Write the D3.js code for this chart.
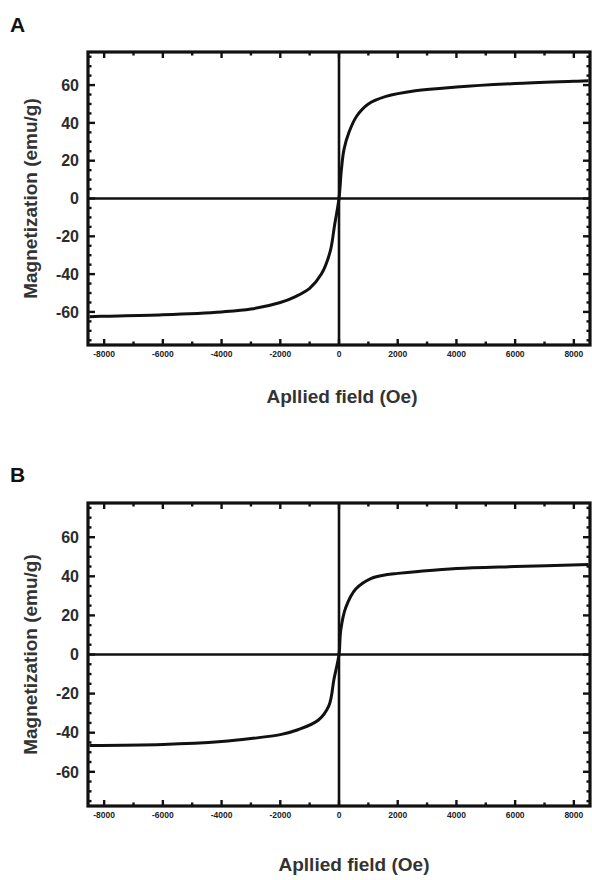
<!DOCTYPE html>
<html>
<head>
<meta charset="utf-8">
<script src="https://cdn.jsdelivr.net/npm/d3@7"></script>
<style>
  body { margin: 0; background: #fff; }
  svg text { font-family: "Liberation Sans", Arial, sans-serif; }
</style>
</head>
<body>
<div id="chart"></div>
<script>
// Panel A: field (Oe) vs magnetization (emu/g)
const fieldA = [-8500, -8000, -6000, -4000, -3000, -2000, -1500, -1000, -600, -300, -150, 0, 80, 170, 340, 600, 1000, 1600, 2600, 4000, 6000, 8000, 8500];
const magA   = [-62.5, -62.3, -61.5, -60, -58.5, -55, -52, -47.5, -40, -28, -14, 0, 15, 26, 35, 43.5, 50, 54, 57, 59, 60.8, 62, 62.3];

// Panel B
const fieldB = [-8500, -6000, -4000, -3000, -2000, -1400, -700, -340, -170, 0, 60, 230, 570, 1100, 1600, 2000, 2700, 4000, 6000, 8500];
const magB   = [-46.5, -46, -44.5, -43, -41, -38.5, -33.5, -26, -12.5, 0, 12.5, 24, 33.5, 39, 40.8, 41.5, 42.5, 44, 45, 46];

const xTicks = [-8000, -6000, -4000, -2000, 0, 2000, 4000, 6000, 8000];
const xMinor = d3.range(-8000, 8001, 1000);
const yTicks = [-60, -40, -20, 0, 20, 40, 60];
const yMinor = d3.range(-75, 76, 5);

const width = 592, height = 880;

const svg = d3.select("#chart").append("svg")
  .attr("width", width)
  .attr("height", height);

function drawPanel({ label, field, mag, top, bottom, labelY, xLabelY, xLabelX }) {
  const left = 88, right = 590;
  const x = d3.scaleLinear().domain([-8550, 8550]).range([left, right]);
  const y = d3.scaleLinear().domain([-77.5, 77.5]).range([bottom, top]);
  const g = svg.append("g");

  // panel letter
  g.append("text")
    .attr("x", 10).attr("y", labelY)
    .attr("font-size", 21).attr("font-weight", "bold")
    .attr("fill", "#111")
    .text(label);

  // zero lines
  g.append("line")
    .attr("x1", left).attr("x2", right)
    .attr("y1", y(0)).attr("y2", y(0))
    .attr("stroke", "#111").attr("stroke-width", 2.6);
  g.append("line")
    .attr("x1", x(0)).attr("x2", x(0))
    .attr("y1", top).attr("y2", bottom)
    .attr("stroke", "#111").attr("stroke-width", 2.6);

  // ticks, pointing inward on all sides
  const tk = g.append("g").attr("stroke", "#111");
  xMinor.forEach(v => {
    const len = v % 2000 === 0 ? 6 : 3.5;
    tk.append("line").attr("x1", x(v)).attr("x2", x(v))
      .attr("y1", bottom).attr("y2", bottom - len).attr("stroke-width", 2.4);
    tk.append("line").attr("x1", x(v)).attr("x2", x(v))
      .attr("y1", top).attr("y2", top + len).attr("stroke-width", 2.4);
  });
  yMinor.forEach(v => {
    const len = v % 20 === 0 ? 7 : 3.5;
    tk.append("line").attr("y1", y(v)).attr("y2", y(v))
      .attr("x1", left).attr("x2", left + len).attr("stroke-width", 2.4);
    tk.append("line").attr("y1", y(v)).attr("y2", y(v))
      .attr("x1", right).attr("x2", right - len).attr("stroke-width", 2.4);
  });

  // frame
  g.append("rect")
    .attr("x", left).attr("y", top)
    .attr("width", right - left).attr("height", bottom - top)
    .attr("fill", "none").attr("stroke", "#111").attr("stroke-width", 3.2);

  // y tick labels
  g.append("g").selectAll("text").data(yTicks).join("text")
    .attr("x", left - 9).attr("y", d => y(d))
    .attr("dy", "0.36em")
    .attr("text-anchor", "end")
    .attr("font-size", 16).attr("font-weight", "bold")
    .attr("fill", "#2b2b2b")
    .text(d => d);

  // x tick labels (tiny)
  g.append("g").selectAll("text").data(xTicks).join("text")
    .attr("x", d => x(d)).attr("y", bottom + 12)
    .attr("text-anchor", "middle")
    .attr("font-size", 8.5).attr("font-weight", "bold")
    .attr("font-family", "Liberation Serif, serif")
    .attr("fill", "#222")
    .text(d => d);

  // curve
  const line = d3.line()
    .x((d, i) => x(field[i]))
    .y((d, i) => y(mag[i]))
    .curve(d3.curveCatmullRom.alpha(0.5));
  g.append("path")
    .datum(field)
    .attr("d", line)
    .attr("fill", "none")
    .attr("stroke", "#111")
    .attr("stroke-width", 3);

  // axis titles
  g.append("text")
    .attr("transform", `translate(37,${(top + bottom) / 2}) rotate(-90)`)
    .attr("text-anchor", "middle")
    .attr("font-size", 19).attr("font-weight", "bold")
    .attr("fill", "#333")
    .text("Magnetization (emu/g)");
  g.append("text")
    .attr("x", xLabelX).attr("y", xLabelY)
    .attr("text-anchor", "middle")
    .attr("font-size", 19).attr("font-weight", "bold")
    .attr("fill", "#333")
    .text("Apllied field (Oe)");
}

drawPanel({ label: "A", field: fieldA, mag: magA, top: 52, bottom: 345, labelY: 32, xLabelY: 403, xLabelX: 342 });
drawPanel({ label: "B", field: fieldB, mag: magB, top: 503, bottom: 806, labelY: 482, xLabelY: 871, xLabelX: 354 });
</script>
</body>
</html>
